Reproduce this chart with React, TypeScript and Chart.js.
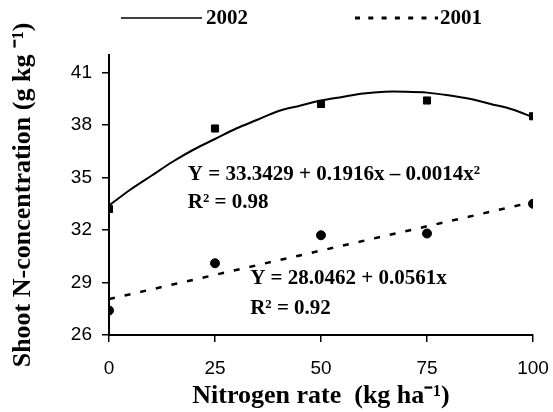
import React, { useEffect, useRef } from "react";
import { Chart, registerables } from "chart.js";

Chart.register(...registerables);

// ---- data ----
const nitrogenRates = [0, 25, 50, 75, 100];
const conc2002 = [33.2, 37.8, 39.2, 39.4, 38.5];
const conc2001 = [27.4, 30.1, 31.7, 31.8, 33.5];

// fitted curves
const fit2002X = [0, 5, 10, 15, 20, 25, 30, 35, 40, 45, 50, 55, 60, 65, 70, 75, 80, 85, 90, 95, 100];
const fit2002Y = [33.4, 34.3, 35.1, 35.9, 36.6, 37.2, 37.8, 38.3, 38.8, 39.1, 39.4, 39.6, 39.8, 39.9, 39.9, 39.85, 39.7, 39.5, 39.2, 38.9, 38.45];
const fit2001X = [0, 100];
const fit2001Y = [28.05, 33.6];

const xTickValues = [0, 25, 50, 75, 100];
const yTickValues = [26, 29, 32, 35, 38, 41];

const legendLabels = ["2002", "2001"];
const equationTexts = [
  "Y = 33.3429 + 0.1916x \u2013 0.0014x\u00B2",
  "R\u00B2 = 0.98",
  "Y = 28.0462 + 0.0561x",
  "R\u00B2 = 0.92",
];
// anchor points (data coordinates) for the equation texts
const equationAnchorX = [18.6, 18.6, 33.3, 33.3];
const equationAnchorY = [35.15, 33.55, 29.2, 27.5];

const SERIF = "'Liberation Serif', 'Times New Roman', serif";
const SANS = "'Liberation Sans', Arial, sans-serif";

const toPoints = (xs: number[], ys: number[]) => xs.map((x, i) => ({ x, y: ys[i] }));

const legendPlugin = {
  id: "customLegend",
  afterDraw(chart: any) {
    const ctx = chart.ctx;
    ctx.save();
    const y = 18;
    const entries = [
      { x0: 121, x1: 202, dash: [] as number[], width: 1.5, tx: 206 },
      { x0: 355, x1: 438, dash: [5, 8.3], width: 3, tx: 440 },
    ];
    entries.forEach((e, i) => {
      ctx.beginPath();
      ctx.setLineDash(e.dash);
      ctx.lineWidth = e.width;
      ctx.strokeStyle = "#000";
      ctx.moveTo(e.x0, y);
      ctx.lineTo(e.x1, y);
      ctx.stroke();
      ctx.setLineDash([]);
      ctx.fillStyle = "#000";
      ctx.font = `bold 21px ${SERIF}`;
      ctx.textAlign = "left";
      ctx.textBaseline = "middle";
      ctx.fillText(legendLabels[i], e.tx, y + 1);
    });
    ctx.restore();
  },
};

const equationPlugin = {
  id: "equations",
  afterDatasetsDraw(chart: any) {
    const ctx = chart.ctx;
    const xs = chart.scales.x;
    const ys = chart.scales.y;
    ctx.save();
    ctx.fillStyle = "#000";
    ctx.font = `bold 21px ${SERIF}`;
    ctx.textAlign = "left";
    ctx.textBaseline = "middle";
    equationTexts.forEach((t, i) => {
      ctx.fillText(t, xs.getPixelForValue(equationAnchorX[i]), ys.getPixelForValue(equationAnchorY[i]));
    });
    ctx.restore();
  },
};

export default function App() {
  const canvasRef = useRef<HTMLCanvasElement | null>(null);

  useEffect(() => {
    document.body.style.margin = "0";
    const canvas = canvasRef.current;
    if (!canvas) return;
    const chart = new Chart(canvas, {
      type: "line",
      data: {
        datasets: [
          {
            label: "2002 data",
            data: toPoints(nitrogenRates, conc2002),
            showLine: false,
            pointStyle: "rect",
            pointRadius: 5,
            pointBackgroundColor: "#000",
            pointBorderColor: "#000",
            borderColor: "#000",
            backgroundColor: "#000",
          },
          {
            label: "2001 data",
            data: toPoints(nitrogenRates, conc2001),
            showLine: false,
            pointStyle: "circle",
            pointRadius: 4.5,
            pointBackgroundColor: "#000",
            pointBorderColor: "#000",
            borderColor: "#000",
            backgroundColor: "#000",
          },
          {
            label: "2002",
            data: toPoints(fit2002X, fit2002Y),
            borderColor: "#000",
            borderWidth: 2,
            pointRadius: 0,
            tension: 0.3,
            fill: false,
          },
          {
            label: "2001",
            data: toPoints(fit2001X, fit2001Y),
            borderColor: "#000",
            borderWidth: 2.5,
            borderDash: [6, 10],
            pointRadius: 0,
            fill: false,
          },
        ],
      },
      options: {
        responsive: false,
        animation: false,
        devicePixelRatio: 1,
        layout: { padding: { top: 55, right: 20, left: 0, bottom: 0 } },
        plugins: {
          legend: { display: false },
          tooltip: { enabled: false },
        },
        scales: {
          x: {
            type: "linear",
            min: 0,
            max: 100,
            afterBuildTicks: (scale: any) => {
              scale.ticks = xTickValues.map((v) => ({ value: v }));
            },
            afterFit: (scale: any) => {
              scale.height = 77;
              scale.paddingLeft = 0;
              scale.paddingRight = 0;
            },
            ticks: {
              color: "#000",
              font: { family: SANS, size: 19 },
              padding: 15,
              maxRotation: 0,
            },
            grid: {
              drawOnChartArea: false,
              drawTicks: true,
              tickLength: 7,
              color: "#000",
              lineWidth: 1.5,
            },
            border: { display: true, color: "#000", width: 2 },
            title: {
              display: true,
              text: "Nitrogen rate  (kg ha\u207B\u00B9)",
              color: "#000",
              font: { family: SERIF, size: 26, weight: "bold" },
              padding: { top: 0, bottom: 0 },
            },
          },
          y: {
            type: "linear",
            min: 26,
            max: 42,
            afterBuildTicks: (scale: any) => {
              scale.ticks = yTickValues.map((v) => ({ value: v }));
            },
            afterFit: (scale: any) => {
              scale.width = 109;
            },
            ticks: {
              color: "#000",
              font: { family: SANS, size: 19 },
              padding: 10,
            },
            grid: {
              drawOnChartArea: false,
              drawTicks: true,
              tickLength: 7,
              color: "#000",
              lineWidth: 1.5,
            },
            border: { display: true, color: "#000", width: 2 },
            title: {
              display: true,
              text: "Shoot N-concentration (g kg \u207B\u00B9)",
              color: "#000",
              font: { family: SERIF, size: 26, weight: "bold" },
              padding: { top: 8, bottom: 0 },
            },
          },
        },
      },
      plugins: [legendPlugin, equationPlugin],
    } as any);
    return () => chart.destroy();
  }, []);

  return (
    <div style={{ width: 553, height: 412 }}>
      <canvas ref={canvasRef} width={553} height={412} style={{ width: 553, height: 412, display: "block" }} />
    </div>
  );
}
